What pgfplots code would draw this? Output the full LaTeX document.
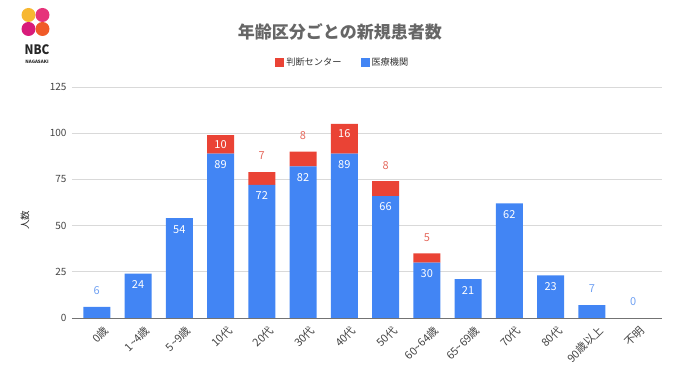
\documentclass[border=0pt]{standalone}
\usepackage{fontspec}
\setmainfont{Noto Sans CJK JP}
\usepackage{pgfplots}
\pgfplotsset{compat=1.18}
\definecolor{gblue}{HTML}{4285F4}
\definecolor{gred}{HTML}{EA4335}
\definecolor{tgray}{HTML}{444444}
\definecolor{titlegray}{HTML}{666666}
\definecolor{gridgray}{HTML}{D9D9D9}
\definecolor{lblue}{HTML}{6FA0F2}
\definecolor{lred}{HTML}{E56A5E}
\definecolor{logoY}{HTML}{F7B731}
\definecolor{logoP}{HTML}{E6337A}
\definecolor{logoM}{HTML}{D81B7A}
\definecolor{logoO}{HTML}{F05A28}
\pgfplotsset{
  common/.style={
    at={(72pt,64pt)}, anchor=south west, scale only axis,
    width=590pt, height=231pt,
    xmin=-0.6, xmax=13.7, ymin=0, ymax=125,
  }
}
\begin{document}
\begin{tikzpicture}[x=1pt,y=1pt]
\useasboundingbox (0,0) rectangle (680,382);
% logo
\fill[logoY] (28.5,367) circle (7);
\fill[logoP] (42.5,367) circle (7);
\fill[logoM] (28.5,353) circle (7);
\fill[logoO] (42.5,353) circle (7);
\node[font=\fontsize{13}{14}\selectfont\bfseries, text=black!85, xscale=0.9, inner sep=0] at (37,332) {NBC};
\node[font=\fontsize{4.5}{5}\selectfont\bfseries, text=black!85, inner sep=0] at (37,320.5) {NAGASAKI};
\begin{axis}[common,
  ybar stacked, bar width=27pt,
  ytick={0,25,50,75,100,125},
  xtick={0,...,13},
  xticklabels={0歳,1\textasciitilde 4歳,5\textasciitilde 9歳,10代,20代,30代,40代,50代,60\textasciitilde 64歳,65\textasciitilde 69歳,70代,80代,90歳以上,不明},
  axis x line*=bottom, axis y line*=left,
  y axis line style={draw=none},
  x axis line style={draw=black!55, line width=0.8pt},
  major tick length=0pt,
  ymajorgrids, grid style={gridgray, line width=0.6pt},
  /pgf/number format/assume math mode=true,
  yticklabel style={font=\fontsize{10}{12}\selectfont, text=tgray, xshift=-2pt},
  xticklabel style={font=\fontsize{11}{12}\selectfont, text=tgray, xshift=12pt, yshift=-8pt, rotate=45, anchor=east},
  ylabel={人数},
  every axis y label/.style={at={(rel axis cs:-0.0797,0.424)}, rotate=90, anchor=center, font=\fontsize{9.5}{10}\selectfont, text=black!85},
  title={年齢区分ごとの新規患者数},
  every axis title/.style={at={(rel axis cs:0.454,1.238)}, anchor=center, font=\fontsize{17}{20}\selectfont\bfseries, text=titlegray},
  legend style={at={(rel axis cs:0.459,1.108)}, anchor=center, draw=none, fill=none, legend columns=2,
    font=\fontsize{9.2}{10}\selectfont, text=black!80,
    /tikz/every even column/.append style={column sep=17pt}},
  legend image code/.code={\fill[#1] (0pt,-4.5pt) rectangle (9pt,4.5pt);},
  reverse legend,
]
\addplot[fill=gblue, draw=none] coordinates {(0,6)(1,24)(2,54)(3,89)(4,72)(5,82)(6,89)(7,66)(8,30)(9,21)(10,62)(11,23)(12,7)(13,0)};
\addlegendentry{医療機関}
\addplot[fill=gred, draw=none] coordinates {(0,0)(1,0)(2,0)(3,10)(4,7)(5,8)(6,16)(7,8)(8,5)(9,0)(10,0)(11,0)(12,0)(13,0)};
\addlegendentry{判断センター}
\end{axis}
\begin{axis}[common, hide axis, clip=false]
% white labels inside blue
\addplot[draw=none, mark=none, nodes near coords, point meta=explicit symbolic,
  nodes near coords style={text=white, anchor=center, yshift=-11pt, font=\fontsize{11}{12}\selectfont}]
  coordinates {(1,24)[24] (2,54)[54] (3,89)[89] (4,72)[72] (5,82)[82] (6,89)[89] (7,66)[66] (8,30)[30] (9,21)[21] (10,62)[62] (11,23)[23]};
% blue labels above
\addplot[draw=none, mark=none, nodes near coords, point meta=explicit symbolic,
  nodes near coords style={text=lblue, anchor=center, yshift=16pt, font=\fontsize{11}{12}\selectfont}]
  coordinates {(0,6)[6] (12,7)[7] (13,0)[0]};
% white labels inside red
\addplot[draw=none, mark=none, nodes near coords, point meta=explicit symbolic,
  nodes near coords style={text=white, anchor=center, yshift=-10pt, font=\fontsize{11}{12}\selectfont}]
  coordinates {(3,99)[10] (6,105)[16]};
% red labels above
\addplot[draw=none, mark=none, nodes near coords, point meta=explicit symbolic,
  nodes near coords style={text=lred, anchor=center, yshift=16pt, font=\fontsize{11}{12}\selectfont}]
  coordinates {(4,79)[7] (5,90)[8] (7,74)[8] (8,35)[5]};
\end{axis}
\end{tikzpicture}
\end{document}
